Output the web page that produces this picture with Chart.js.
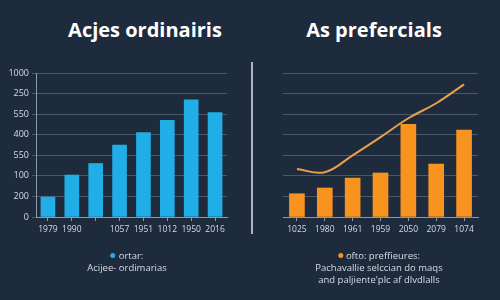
<!DOCTYPE html>
<html>
<head>
<meta charset="utf-8">
<script src="https://cdn.jsdelivr.net/npm/chart.js@4"></script>
<style>
  html, body { margin: 0; padding: 0; }
  body { width: 500px; height: 300px; background: #1e2b3c; position: relative; overflow: hidden;
         font-family: "Open Sans", "Noto Sans", sans-serif; color: #d6dde5; }
  .titre { position: absolute; top: 16px; font-weight: 700; font-size: 20px; color: #ffffff; white-space: nowrap; transform: translateX(-50%); }
  .legende { position: absolute; font-size: 9.5px; line-height: 12px; text-align: center; white-space: nowrap; transform: translateX(-50%); }
  .puce { display: inline-block; width: 5px; height: 5px; border-radius: 50%; margin-right: 3px; vertical-align: 1px; }
  #sep { position: absolute; left: 251px; top: 62px; width: 2px; height: 172px; background: #a9b4c0; }
  canvas { position: absolute; top: 0; }
</style>
</head>
<body>
<div class="titre" style="left:145px">Acjes ordinairis</div>
<div class="titre" style="left:374px">As prefercials</div>
<div id="sep"></div>
<canvas id="gauche" width="250" height="300" style="left:0"></canvas>
<canvas id="droite" width="250" height="300" style="left:250px"></canvas>
<div class="legende" style="left:127px; top:250px"><span class="puce" style="background:#21aee6"></span>ortar:<br>Acijee- ordimarias</div>
<div class="legende" style="left:379px; top:250px"><span class="puce" style="background:#f7931e"></span>ofto: preffieures:<br>Pachavallie selccian do maqs<br>and paljiente'plc af dlvdlalls</div>
<script>
// Étiquettes de l'axe Y (telles qu'affichées, de bas en haut)
const etiquettesY = ['0', '200', '100', '550', '400', '550', '250', '1000'];

// Actions ordinaires
const anneesOrdinaires = ['1979', '1990', '', '1057', '1951', '1012', '1950', '2016'];
const valeursOrdinaires = [0.97, 2.04, 2.6, 3.5, 4.1, 4.7, 5.7, 5.08];

// Actions préférentielles
const anneesPreferentielles = ['1025', '1980', '1961', '1959', '2050', '2079', '1074'];
const barresPreferentielles = [1.13, 1.41, 1.89, 2.14, 4.51, 2.57, 4.22];
const lignePreferentielle = [2.33, 2.18, 3.0, 3.88, 4.8, 5.53, 6.45];

const couleurGrille = '#4a596a';
const couleurAxe = '#8f9aa7';
const couleurTexte = '#d6dde5';

function optionsCommunes(afficherY, largeurY, droitePad) {
    return {
        responsive: false,
        animation: false,
        layout: { padding: { left: 0, top: 73, right: droitePad, bottom: 0 } },
        plugins: { legend: { display: false }, tooltip: { enabled: false } },
        scales: {
            x: {
                grid: { display: true, drawOnChartArea: false, drawTicks: true, tickLength: 4, offset: false, color: couleurAxe },
                border: { display: true, color: couleurAxe, width: 1 },
                ticks: { color: couleurTexte, font: { size: 8.5, family: 'Open Sans' }, padding: 3, maxRotation: 0, autoSkip: false },
                afterFit: s => { s.height = 83; }
            },
            y: {
                min: 0, max: 7,
                grid: { color: couleurGrille, lineWidth: 1, drawTicks: afficherY, tickLength: 4 },
                border: { display: afficherY, color: couleurAxe },
                ticks: {
                    display: afficherY, stepSize: 1, color: couleurTexte, padding: 3,
                    font: { size: 9, family: 'Open Sans' },
                    callback: v => etiquettesY[v]
                },
                afterFit: s => { s.width = largeurY; }
            }
        }
    };
}

new Chart(document.getElementById('gauche'), {
    type: 'bar',
    data: {
        labels: anneesOrdinaires,
        datasets: [{
            data: valeursOrdinaires,
            backgroundColor: '#21aee6',
            barThickness: 14
        }]
    },
    options: optionsCommunes(true, 36, 23)
});

new Chart(document.getElementById('droite'), {
    type: 'bar',
    data: {
        labels: anneesPreferentielles,
        datasets: [
            {
                type: 'line',
                data: lignePreferentielle,
                borderColor: '#e9a04c',
                borderWidth: 2,
                pointRadius: 0,
                tension: 0.4,
                fill: false
            },
            {
                data: barresPreferentielles,
                backgroundColor: '#f7931e',
                barThickness: 15
            }
        ]
    },
    options: optionsCommunes(false, 33, 22)
});
</script>
</body>
</html>
